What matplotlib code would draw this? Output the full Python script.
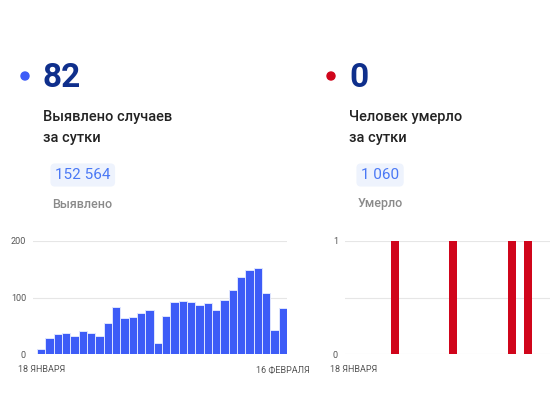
import matplotlib
matplotlib.use("Agg")
import matplotlib.pyplot as plt
from matplotlib.patches import Ellipse

plt.rcParams['font.family'] = ['Roboto', 'DejaVu Sans']

# данные
cases = [9, 29, 35, 38, 32, 41, 38, 31, 55, 83,
         64, 65, 73, 78, 19, 67, 92, 93, 92, 86,
         91, 77, 96, 114, 136, 148, 152, 108, 42, 82]
deaths = [0, 0, 0, 0, 0, 1, 0, 0, 0, 0,
          0, 0, 1, 0, 0, 0, 0, 0, 0, 1,
          0, 1, 0, 0, 0, 0, 0, 0, 0, 0]
date_labels = ["18 ЯНВАРЯ", "16 ФЕВРАЛЯ"]
today_cases = 82
today_deaths = 0
total_cases = "152 564"
total_deaths = "1 060"

W, H = 550, 412
fig = plt.figure(figsize=(W / 100, H / 100), dpi=100)
fig.patch.set_facecolor("white")

def fx(px):
    return px / W

def fy(py):
    return 1 - py / H

BLUE = "#3d5cf7"
RED = "#d0051b"
NAVY = "#0f2f8c"

def header(x0, color, big, line1, line2, total, label):
    fig.add_artist(Ellipse((fx(x0 - 18), fy(76)), 8 / W, 8 / H,
                           transform=fig.transFigure, color=color))
    fig.text(fx(x0), fy(87), str(big), fontsize=24, fontweight="bold",
             color=NAVY, va="baseline", ha="left")
    fig.text(fx(x0), fy(121), line1, fontsize=10.5, fontweight="medium",
             color="#222222", va="baseline")
    fig.text(fx(x0), fy(142), line2, fontsize=10.5, fontweight="medium",
             color="#222222", va="baseline")
    fig.text(fx(x0 + 12), fy(175), total, fontsize=11, color="#4a78f5",
             va="center", ha="left",
             bbox=dict(boxstyle="round,pad=0.3", fc="#eef3fd", ec="none"))
    fig.text(fx(x0 + 9), fy(204), label, fontsize=9, fontweight="medium",
             color="#8a8a8a", va="center")

header(43, BLUE, today_cases, "Выявлено случаев", "за сутки",
       total_cases, "Выявлено")
header(349, RED, today_deaths, "Человек умерло", "за сутки",
       total_deaths, "Умерло")

def style_axis(ax, ymax, yticks, yticklabels, xticks, xticklabels):
    ax.set_xlim(-1.0, len(cases) - 0.5)
    ax.set_ylim(0, ymax)
    for s in ax.spines.values():
        s.set_visible(False)
    ax.set_yticks(yticks)
    ax.set_yticklabels(yticklabels)
    ax.grid(axis="y", color="#e6e6e6", linewidth=0.8)
    ax.set_axisbelow(True)
    ax.tick_params(length=0, labelsize=6.5, colors="#555555")
    ax.tick_params(axis="y", pad=5)
    ax.tick_params(axis="x", pad=8)
    ax.set_xticks(xticks)
    ax.set_xticklabels(xticklabels)

x = list(range(len(cases)))

# левый график - выявлено
ax1 = fig.add_axes([fx(33), fy(354), fx(287) - fx(33), fy(241) - fy(354)])
ax1.bar(x, cases, width=1.0, color=BLUE, edgecolor="#dfe5ff", linewidth=0.7)
style_axis(ax1, 200, [0, 100, 200], ["0", "100", "200"],
           [0, len(cases) - 1], date_labels)

# правый график - умерло (обрезан справа, как в оригинале)
ax2 = fig.add_axes([fx(345), fy(354), fx(599) - fx(345), fy(241) - fy(354)])
ax2.bar(x, deaths, width=0.95, color=RED)
style_axis(ax2, 1, [0, 0.5, 1], ["0", "", "1"], [0], date_labels[:1])

fig.savefig("out.png", dpi=100)
